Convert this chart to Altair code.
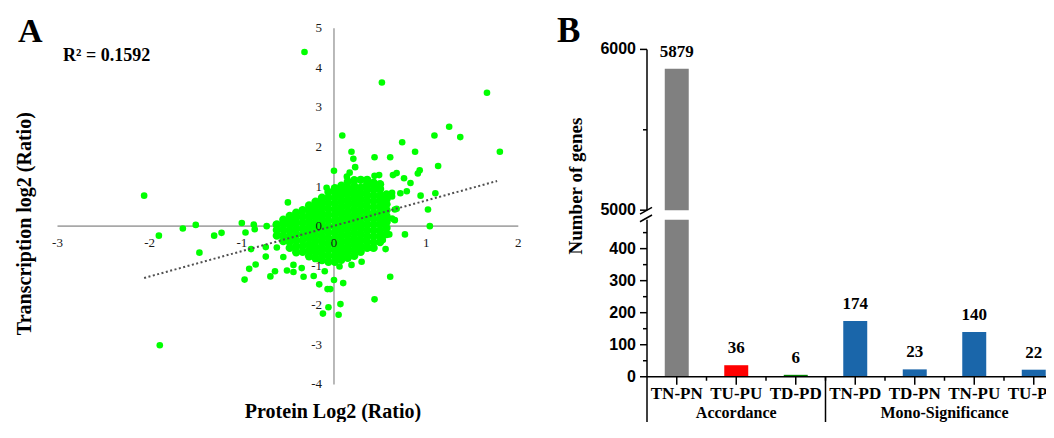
import altair as alt
import pandas as pd

# ---------------- Panel A : scatter ----------------
out_x = [-0.32, 0.52, 1.66, 1.25, 1.37, 1.09, 1.80, 1.13, 0.88, 0.74, 0.09, 0.19, 0.21, 0.44,
         0.61, 0.23, 0.93, 0.91, 1.10, 0.94, 1.02, 1.04, 0.77, 0.61, 0.44, 0.07, 0.05, -0.06,
         -0.12, -0.04, -0.07, -0.16, 0.10, 0.00, -0.22, -0.33, -0.10, -0.44, -0.51, -0.69,
         -0.64, -0.97, -0.92, -0.85, -0.74, -0.74, -0.90, -1.46, -1.30, -1.22, -1.50, -1.64,
         -1.90, -2.06, -1.89, -1.00, -0.87, -0.86, -0.96, -0.73, -0.63, -0.50, -0.08, 0.00,
         0.17, 0.14, 0.44, 0.49, 0.64, 0.68, 0.76, 0.83, 0.79, 0.72, 0.63, 0.66, 0.66, 0.53,
         0.56, 0.60, 0.30, 0.19, 0.06, 0.36, 0.41, 0.52, -0.55, -0.44, -0.35, -0.62, 0.63,
         0.68, 0.63]
out_y = [4.40, 3.63, 3.37, 2.51, 2.25, 2.29, 1.88, 1.52, 1.88, 2.12, 2.29, 1.88, 1.70, 1.74,
         1.74, 1.49, 1.41, 1.33, 0.83, 0.77, 0.42, 0.00, -0.21, -1.28, -1.85, -1.97, -2.24, -2.05,
         -2.21, -1.59, -1.59, -1.47, -1.44, -1.36, -1.26, -1.28, -1.14, -1.16, -1.12, -1.27,
         -1.14, -1.35, -1.08, -0.97, -0.77, -0.53, -0.58, -0.67, -0.24, -0.17, 0.03, -0.06,
         -0.24, 0.77, -3.01, 0.08, 0.04, -0.08, -0.16, 0.00, 0.04, 0.60, 0.97, 1.40,
         1.35, 1.25, 1.27, 1.29, 1.29, 1.34, 1.21, 1.09, 0.88, 0.83, 0.75, 0.42, 0.15, -0.35,
         -0.58, -0.21, -0.90, -0.98, -1.02, -0.54, -0.55, -0.31, -0.78, -0.98, -1.06, -0.54,
         0.19, 0.44, 0.84]

# dense core of the cloud, column by column
core_x = [-0.62, -0.55, -0.48, -0.41, -0.34, -0.27, -0.20, -0.13, -0.06, 0.01, 0.08, 0.15,
          0.22, 0.29, 0.36, 0.43, 0.50, 0.57]
core_y = [
    [-0.24, -0.10, 0.04],
    [-0.38, -0.24, -0.09, 0.05, 0.16],
    [-0.55, -0.40, -0.26, -0.12, 0.02, 0.15, 0.26],
    [-0.66, -0.52, -0.37, -0.22, -0.08, 0.07, 0.21, 0.34],
    [-0.65, -0.50, -0.36, -0.21, -0.06, 0.09, 0.24, 0.40],
    [-0.76, -0.61, -0.46, -0.31, -0.16, -0.02, 0.13, 0.28, 0.42, 0.52],
    [-0.81, -0.66, -0.52, -0.37, -0.22, -0.07, 0.08, 0.23, 0.37, 0.51, 0.62],
    [-0.86, -0.71, -0.56, -0.41, -0.27, -0.12, 0.03, 0.18, 0.32, 0.47, 0.61, 0.72],
    [-0.90, -0.75, -0.60, -0.46, -0.31, -0.16, -0.01, 0.14, 0.28, 0.43, 0.58, 0.72, 0.86],
    [-0.90, -0.76, -0.61, -0.46, -0.31, -0.17, -0.02, 0.13, 0.28, 0.42, 0.57, 0.72, 0.86, 0.96],
    [-0.85, -0.70, -0.55, -0.41, -0.26, -0.11, 0.04, 0.18, 0.33, 0.48, 0.63, 0.77, 0.91, 1.02],
    [-0.80, -0.65, -0.51, -0.36, -0.21, -0.06, 0.09, 0.23, 0.38, 0.53, 0.67, 0.82, 0.96, 1.12],
    [-0.75, -0.60, -0.45, -0.31, -0.16, -0.01, 0.14, 0.28, 0.43, 0.58, 0.73, 0.87, 1.01, 1.16],
    [-0.65, -0.51, -0.36, -0.21, -0.06, 0.08, 0.23, 0.38, 0.53, 0.67, 0.82, 0.97, 1.17],
    [-0.55, -0.40, -0.26, -0.11, 0.04, 0.19, 0.33, 0.48, 0.63, 0.78, 0.92, 1.06, 1.17],
    [-0.55, -0.41, -0.26, -0.11, 0.04, 0.18, 0.33, 0.48, 0.63, 0.77, 0.92, 1.04, 1.10],
    [-0.40, -0.25, -0.10, 0.05, 0.19, 0.34, 0.49, 0.64, 0.78, 0.94, 1.06],
    [-0.20, -0.05, 0.10, 0.25, 0.40, 0.55, 0.68, 0.80],
]

trend_x = [-2.06, 1.77]
trend_y = [-1.31, 1.14]
a_x_domain = [-3, 2]
a_y_domain = [-4, 5]
a_x_ticks = [-3, -2, -1, 0, 1, 2]
a_x_labels = ["-3", "-2", "-1", "0", "1", "2"]
a_y_ticks = [-4, -3, -2, -1, 0, 1, 2, 3, 4, 5]
a_y_labels = ["-4", "-3", "-2", "-1", "0", "1", "2", "3", "4", "5"]
r2_text = "R² = 0.1592"
a_x_title = "Protein Log2 (Ratio)"
a_y_title = "Transcription log2 (Ratio)"

# ---------------- Panel B : bars with broken axis ----------------
cats = ["TN-PN", "TU-PU", "TD-PD", "TN-PD", "TD-PN", "TN-PU", "TU-PN"]
counts = [5879, 36, 6, 174, 23, 140, 22]
bar_colors = ["#808080", "#ff0000", "#008000", "#1a66aa", "#1a66aa", "#1a66aa", "#1a66aa"]
groups = ["Accordance", "Mono-Significance"]
up_domain = [5000, 6000]
low_domain = [0, 490]
up_ticks = [5000, 6000]
up_labels = ["5000", "6000"]
up_minor = [5500]
low_ticks = [0, 100, 200, 300, 400]
low_labels = ["0", "100", "200", "300", "400"]
low_minor = [50, 150, 250, 350, 450]
b_y_title = "Number of genes"

# ---------------- layout (pixels, inside the plot area) ----------------
W, H = 1038, 414
K = 414 / 430                 # vertical compression so the page does not overflow
SERIF = "Liberation Serif"
SANS = "Liberation Sans"


def vy(ref_y):                # reference page y -> plot y
    return (ref_y - 8) * K


A_XR = [49.5, 510.3]
A_YR = [vy(399), vy(29)]
B_XR = [639, 1055.5]
B_UPR = [vy(218), vy(51)]
B_LOWR = [vy(391), vy(228)]
PI = 0.597
STEP = (B_XR[1] - B_XR[0]) / len(cats)
GAP = PI * STEP / 2          # from a band's right edge to the mid point between bands
AX = B_XR[0]                 # x of panel B's y axis

a_x0 = A_XR[0] + (0 - a_x_domain[0]) / (a_x_domain[1] - a_x_domain[0]) * (A_XR[1] - A_XR[0])
a_y0 = A_YR[0] + (0 - a_y_domain[0]) / (a_y_domain[1] - a_y_domain[0]) * (A_YR[1] - A_YR[0])

xA = alt.Scale(domain=a_x_domain, range=A_XR, nice=False, zero=False)
yA = alt.Scale(domain=a_y_domain, range=A_YR, nice=False, zero=False)
xB = alt.Scale(type="band", domain=cats, range=B_XR, paddingInner=PI, paddingOuter=PI / 2)
yUp = alt.Scale(domain=up_domain, range=B_UPR, nice=False, zero=False, clamp=True)
yLow = alt.Scale(domain=low_domain, range=B_LOWR, nice=False, zero=False, clamp=True)
colB = alt.Color("cat:N", scale=alt.Scale(domain=cats, range=bar_colors), legend=None)

one = pd.DataFrame({"k": [0]})


def txt(text, x, y, size, weight="bold", angle=0, align="center", baseline="middle", font=SERIF):
    return alt.Chart(one).mark_text(text=text, font=font, fontSize=size, fontWeight=weight,
                                    angle=angle, align=align, baseline=baseline,
                                    color="black").encode(x=alt.value(x), y=alt.value(y))


def blk_rule(df, **kw):
    return alt.Chart(df).mark_rule(color="black", strokeWidth=1.5, **kw)


# ---- A
core_px, core_py = [], []
for cx, ys in zip(core_x, core_y):
    for cy in ys:
        core_px.append(cx)
        core_py.append(cy)
pts_out = pd.DataFrame({"x": out_x, "y": out_y})
pts_core = pd.DataFrame({"x": core_px, "y": core_py})
trend = pd.DataFrame({"x": trend_x, "y": trend_y})
axis_lines = pd.DataFrame({"xa": [a_x_domain[0], 0], "xb": [a_x_domain[1], 0],
                           "ya": [0, a_y_domain[0]], "yb": [0, a_y_domain[1]]})
a_xlab = pd.DataFrame({"v": a_x_ticks, "t": a_x_labels})
a_ylab = pd.DataFrame({"v": a_y_ticks, "t": a_y_labels})

a_rules = alt.Chart(axis_lines).mark_rule(color="#a8a8a8", strokeWidth=1.6).encode(
    x=alt.X("xa:Q", scale=xA, axis=None), x2="xb:Q",
    y=alt.Y("ya:Q", scale=yA, axis=None), y2="yb:Q")
a_core = alt.Chart(pts_core).mark_circle(size=70, color="#00ff00", opacity=1).encode(
    x=alt.X("x:Q", scale=xA, axis=None), y=alt.Y("y:Q", scale=yA, axis=None))
a_out = alt.Chart(pts_out).mark_circle(size=44, color="#00ff00", opacity=1).encode(
    x=alt.X("x:Q", scale=xA, axis=None), y=alt.Y("y:Q", scale=yA, axis=None))
a_trend = alt.Chart(trend).mark_line(color="#505050", strokeWidth=2, strokeDash=[2, 2.5]).encode(
    x=alt.X("x:Q", scale=xA, axis=None), y=alt.Y("y:Q", scale=yA, axis=None))
a_xticklab = alt.Chart(a_xlab).mark_text(font=SERIF, fontSize=13, color="#1a1a1a",
                                         baseline="middle").encode(
    x=alt.X("v:Q", scale=xA, axis=None), y=alt.value(a_y0 + 17), text="t:N")
a_yticklab = alt.Chart(a_ylab).mark_text(font=SERIF, fontSize=13, color="#1a1a1a",
                                         baseline="middle", align="right").encode(
    y=alt.Y("v:Q", scale=yA, axis=None), x=alt.value(a_x0 - 12), text="t:N")

layerA = alt.layer(
    a_rules, a_core, a_out, a_trend, a_xticklab, a_yticklab,
    txt("A", 10, vy(43.3), 34, align="left", baseline="alphabetic"),
    txt(r2_text, 55, vy(63.3), 18, align="left", baseline="alphabetic"),
    txt(a_y_title, 17, vy(232), 20, angle=270),
    txt(a_x_title, 325, vy(434), 20, baseline="alphabetic"),
)

# ---- B tables
bars = pd.DataFrame({"cat": cats, "n": counts})
catdf = pd.DataFrame({"cat": cats})
xmin = pd.DataFrame({"cat": cats[:-1]})
up_ax = pd.DataFrame({"a": [up_domain[0]], "b": [up_domain[1]]})
low_ax = pd.DataFrame({"a": [low_domain[0]], "b": [low_domain[1]]})
up_lab = pd.DataFrame({"v": up_ticks, "t": up_labels})
low_lab = pd.DataFrame({"v": low_ticks, "t": low_labels})
upm = pd.DataFrame({"v": up_minor})
lowm = pd.DataFrame({"v": low_minor})

ylab_style = dict(font=SANS, fontSize=16, fontWeight="bold", color="black",
                  align="right", baseline="middle")
bar_lab_style = dict(font=SERIF, fontSize=17, fontWeight="bold", color="black",
                     baseline="bottom", dy=-8)
xcat = alt.X("cat:N", scale=xB, axis=None, sort=cats)

# upper segment (5000-6000)
bars_up = alt.Chart(bars).transform_filter(alt.datum.n > up_domain[0]).mark_bar().encode(
    x=xcat, y=alt.Y("n:Q", scale=yUp, axis=None), y2=alt.datum(up_domain[0]), color=colB)
labels_up = alt.Chart(bars).transform_filter(alt.datum.n > up_domain[0]).mark_text(
    **bar_lab_style).encode(x=xcat, y=alt.Y("n:Q", scale=yUp, axis=None), text="n:Q")
up_line = blk_rule(up_ax).encode(y=alt.Y("a:Q", scale=yUp, axis=None), y2="b:Q",
                                 x=alt.value(AX))
up_major = blk_rule(up_lab).encode(y=alt.Y("v:Q", scale=yUp, axis=None),
                                   x=alt.value(AX - 7), x2=alt.value(AX))
up_minor_r = blk_rule(upm).encode(y=alt.Y("v:Q", scale=yUp, axis=None),
                                  x=alt.value(AX - 4), x2=alt.value(AX))
up_text = alt.Chart(up_lab).mark_text(**ylab_style).encode(
    y=alt.Y("v:Q", scale=yUp, axis=None), x=alt.value(AX - 11), text="t:N")
break_up = blk_rule(one).encode(x=alt.value(632), x2=alt.value(644),
                                y=alt.value(vy(222)), y2=alt.value(vy(215)))

layerBup = alt.layer(
    bars_up, labels_up, up_line, up_major, up_minor_r, up_text, break_up,
    txt("B", 549, vy(43.3), 35, align="left", baseline="alphabetic"),
    txt(b_y_title, 568, vy(193), 19, angle=270),
)

# lower segment (0-490)
bars_low = alt.Chart(bars).mark_bar().encode(
    x=xcat, y=alt.Y("n:Q", scale=yLow, axis=None), y2=alt.datum(low_domain[0]), color=colB)
labels_low = alt.Chart(bars).transform_filter(alt.datum.n <= low_domain[1]).mark_text(
    **bar_lab_style).encode(x=xcat, y=alt.Y("n:Q", scale=yLow, axis=None), text="n:Q")
low_line = blk_rule(low_ax).encode(y=alt.Y("a:Q", scale=yLow, axis=None), y2="b:Q",
                                   x=alt.value(AX))
x_line = blk_rule(low_ax).encode(y=alt.Y("a:Q", scale=yLow, axis=None),
                                 x=alt.value(AX), x2=alt.value(W))
low_major = blk_rule(low_lab).encode(y=alt.Y("v:Q", scale=yLow, axis=None),
                                     x=alt.value(AX - 7), x2=alt.value(AX))
low_minor_r = blk_rule(lowm).encode(y=alt.Y("v:Q", scale=yLow, axis=None),
                                    x=alt.value(AX - 4), x2=alt.value(AX))
low_text = alt.Chart(low_lab).mark_text(**ylab_style).encode(
    y=alt.Y("v:Q", scale=yLow, axis=None), x=alt.value(AX - 11), text="t:N")
x_major = blk_rule(catdf).encode(x=xcat, y=alt.value(B_LOWR[0]), y2=alt.value(B_LOWR[0] + 8))
x_minor = blk_rule(xmin, xOffset=GAP).encode(
    x=alt.X("cat:N", scale=xB, axis=None, sort=cats, bandPosition=1),
    y=alt.value(B_LOWR[0]), y2=alt.value(B_LOWR[0] + 4))
x_text = alt.Chart(catdf).mark_text(font=SERIF, fontSize=17, fontWeight="bold", color="black",
                                    baseline="alphabetic").encode(
    x=xcat, y=alt.value(B_LOWR[0] + 22), text="cat:N")
sep_left = blk_rule(one).encode(x=alt.value(AX), y=alt.value(B_LOWR[0]), y2=alt.value(H))
sep_mid = blk_rule(pd.DataFrame({"cat": [cats[2]]}), xOffset=GAP).encode(
    x=alt.X("cat:N", scale=xB, axis=None, sort=cats, bandPosition=1),
    y=alt.value(B_LOWR[0]), y2=alt.value(H))
grp1 = alt.Chart(pd.DataFrame({"cat": [cats[1]], "g": [groups[0]]})).mark_text(
    font=SERIF, fontSize=16, fontWeight="bold", baseline="alphabetic", color="black").encode(
    x=xcat, y=alt.value(H - 4), text="g:N")
grp2 = alt.Chart(pd.DataFrame({"cat": [cats[4]], "g": [groups[1]]})).mark_text(
    font=SERIF, fontSize=16, fontWeight="bold", baseline="alphabetic", color="black",
    xOffset=GAP).encode(
    x=alt.X("cat:N", scale=xB, axis=None, sort=cats, bandPosition=1),
    y=alt.value(H - 4), text="g:N")
break_low = blk_rule(one).encode(x=alt.value(632), x2=alt.value(644),
                                 y=alt.value(vy(230)), y2=alt.value(vy(223)))

layerBlow = alt.layer(bars_low, labels_low, low_line, x_line, low_major, low_minor_r, low_text,
                      x_major, x_minor, x_text, sep_left, sep_mid, grp1, grp2, break_low)

chart = alt.layer(layerA, layerBup, layerBlow).resolve_scale(
    x="independent", y="independent").properties(
    width=W, height=H, padding=0, autosize=alt.AutoSizeParams(type="none")
).configure_view(stroke="transparent")

chart.save("out.html", embed_options={"renderer": "svg", "actions": False})
